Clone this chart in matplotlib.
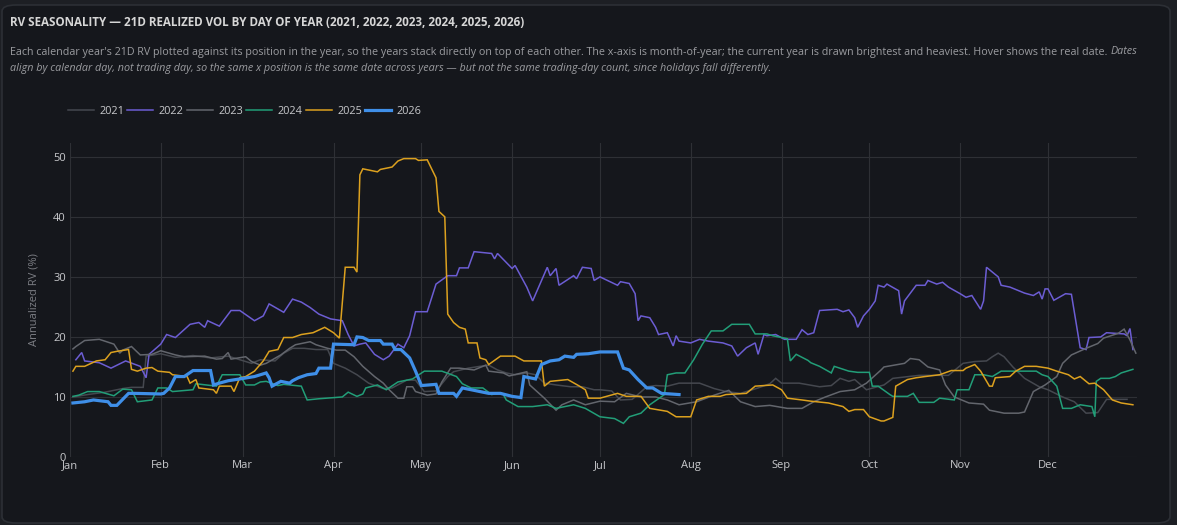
import matplotlib
matplotlib.use("Agg")
import matplotlib.pyplot as plt
from matplotlib.patches import FancyBboxPatch

plt.rcParams['font.family'] = ['Open Sans', 'DejaVu Sans']

# ---- data (day of year, 21D realized vol %) ----
years = ['2021', '2022', '2023', '2024', '2025', '2026']
colors = ['#45484f', '#6c5dd3', '#63666d', '#229e78', '#dca11f', '#3f8fe8']

days_2021 = [1, 6, 12, 18, 21, 25, 26, 31, 36, 42, 48, 54, 58, 62, 65, 70, 73, 76, 80, 84,
             88, 90, 94, 98, 102, 107, 110, 115, 118, 121, 125, 129, 131, 136, 140, 143, 146, 149, 152, 156,
             159, 162, 166, 171, 175, 179, 181, 185, 188, 192, 197, 200, 204, 208, 215, 220, 224, 229, 235, 239,
             241, 243, 249, 256, 260, 263, 266, 268, 272, 278, 281, 290, 300, 305, 309, 313, 315, 317, 319, 322,
             326, 331, 334, 339, 343, 347, 351, 354, 361]
rv_2021 = [10.0, 10.4, 10.8, 11.4, 11.6, 11.6, 16.8, 17.2, 16.6, 16.9, 16.5, 16.8, 16.2, 15.6, 16.2, 16.0, 17.3, 18.1, 18.1, 17.9,
           17.9, 15.6, 14.8, 13.7, 12.3, 11.4, 11.5, 12.8, 12.8, 10.9, 11.0, 13.4, 14.2, 14.8, 15.1, 15.3, 14.5, 14.0, 13.7, 14.0,
           13.7, 12.3, 12.0, 11.7, 11.7, 11.2, 11.2, 11.0, 9.5, 9.6, 11.7, 11.9, 11.8, 12.3, 12.3, 11.4, 10.9, 10.6, 11.5, 12.2,
           13.1, 12.3, 12.3, 11.7, 11.9, 13.1, 12.6, 12.9, 11.2, 12.0, 13.1, 13.6, 13.6, 15.6, 15.9, 16.0, 16.7, 17.3, 16.7, 15.0,
           13.1, 11.7, 11.2, 10.0, 9.2, 7.3, 7.4, 9.6, 9.6]

days_2022 = [2, 4, 5, 10, 14, 19, 24, 26, 27, 31, 33, 36, 41, 44, 46, 47, 51, 55, 58, 63,
             66, 68, 73, 76, 79, 82, 85, 89, 93, 95, 97, 99, 101, 104, 107, 109, 112, 114, 116, 118,
             122, 125, 129, 132, 133, 136, 138, 144, 145, 146, 151, 152, 156, 158, 163, 164, 166, 167, 172, 173,
             175, 178, 179, 181, 187, 188, 191, 193, 194, 195, 198, 200, 201, 204, 206, 207, 208, 212, 215, 218,
             223, 226, 228, 231, 234, 235, 237, 238, 241, 244, 248, 250, 252, 254, 256, 262, 264, 266, 268, 269,
             271, 273, 275, 276, 278, 279, 283, 284, 285, 289, 292, 293, 296, 298, 300, 304, 306, 308, 311, 312,
             313, 317, 318, 321, 326, 329, 331, 332, 333, 334, 336, 340, 342, 345, 347, 348, 352, 354, 360, 361,
             362, 363]
rv_2022 = [16.2, 17.4, 16.0, 15.7, 14.8, 16.0, 15.1, 13.2, 17.1, 18.8, 20.4, 19.9, 22.1, 22.4, 21.6, 22.7, 21.8, 24.4, 24.4, 22.7,
           23.5, 25.5, 24.1, 26.3, 25.8, 24.9, 23.8, 23.0, 22.7, 20.4, 18.5, 18.8, 19.0, 17.1, 16.2, 16.8, 18.8, 18.2, 20.2, 24.2,
           24.2, 28.8, 30.2, 30.2, 31.5, 31.5, 34.2, 33.9, 33.0, 33.9, 31.4, 31.9, 28.3, 26.0, 31.6, 30.2, 31.4, 28.6, 30.2, 29.7,
           31.6, 31.4, 29.4, 30.0, 28.6, 29.2, 28.9, 27.2, 22.7, 23.5, 23.2, 21.6, 20.4, 20.7, 18.5, 20.2, 19.3, 19.0, 19.6, 19.3,
           19.0, 18.5, 16.8, 18.2, 19.0, 17.1, 20.4, 20.2, 20.4, 19.6, 19.6, 21.2, 20.4, 20.7, 24.4, 24.6, 24.2, 24.5, 23.2, 21.6,
           23.5, 24.6, 26.0, 28.6, 28.3, 28.8, 27.7, 23.8, 26.0, 28.6, 28.6, 29.4, 28.8, 29.1, 28.3, 27.2, 26.6, 26.9, 24.6, 26.0,
           31.6, 30.0, 28.6, 28.3, 27.3, 26.9, 27.5, 26.3, 28.0, 28.0, 26.1, 27.2, 27.1, 18.2, 17.9, 19.9, 20.0, 20.7, 20.5, 20.2,
           21.4, 17.9]

days_2023 = [1, 2, 5, 10, 15, 17, 18, 21, 24, 28, 31, 36, 39, 46, 50, 52, 54, 55, 60, 62,
             65, 67, 72, 75, 77, 82, 84, 88, 91, 94, 97, 100, 104, 107, 109, 112, 114, 115, 117, 118,
             122, 125, 127, 130, 133, 138, 142, 143, 148, 150, 156, 157, 162, 166, 168, 172, 176, 181, 186, 190,
             195, 200, 204, 208, 214, 220, 225, 229, 234, 239, 245, 250, 254, 258, 263, 268, 272, 277, 278, 285,
             287, 290, 293, 297, 299, 302, 307, 312, 314, 319, 324, 326, 329, 333, 337, 339, 342, 347, 351, 353,
             358, 360, 362, 364]
rv_2023 = [18.0, 18.4, 19.4, 19.6, 18.8, 17.3, 17.8, 18.4, 17.0, 17.1, 17.7, 17.0, 16.7, 16.8, 16.3, 16.4, 17.4, 16.3, 16.7, 15.9,
           15.3, 15.6, 17.0, 18.1, 18.7, 19.2, 18.7, 18.1, 17.8, 17.8, 16.7, 15.1, 13.4, 12.3, 11.2, 9.8, 9.8, 11.7, 11.7, 10.9,
           10.3, 10.5, 12.5, 14.8, 14.8, 14.5, 15.3, 14.3, 14.0, 13.5, 14.2, 12.0, 9.8, 7.8, 8.7, 9.5, 8.7, 9.3, 9.2, 10.6,
           10.0, 10.0, 9.5, 8.7, 9.2, 10.3, 11.1, 9.2, 8.4, 8.6, 8.1, 8.1, 9.2, 10.0, 10.9, 11.2, 12.3, 14.5, 15.0, 15.6,
           16.4, 16.2, 15.0, 14.5, 12.0, 10.0, 9.0, 8.8, 7.8, 7.3, 7.3, 7.5, 10.9, 12.0, 13.4, 15.6, 17.0, 18.1, 18.9, 19.8,
           20.6, 21.3, 19.5, 17.3]

days_2024 = [1, 3, 6, 10, 15, 18, 21, 23, 28, 30, 33, 35, 42, 43, 50, 52, 58, 60, 63, 65,
             67, 71, 73, 79, 81, 85, 93, 95, 98, 100, 101, 105, 108, 112, 117, 121, 127, 132, 134, 137,
             141, 144, 147, 148, 149, 153, 158, 163, 166, 172, 176, 181, 186, 189, 191, 195, 198, 203, 204, 207,
             210, 213, 216, 219, 223, 226, 232, 234, 238, 240, 245, 246, 248, 252, 253, 256, 260, 261, 266, 269,
             273, 274, 276, 280, 281, 286, 288, 290, 295, 297, 302, 303, 307, 309, 312, 315, 318, 330, 332, 334,
             337, 339, 342, 345, 349, 350, 350.5, 352, 355, 357, 359, 363]
rv_2024 = [10.1, 10.3, 10.9, 10.9, 10.2, 11.3, 11.2, 9.2, 9.5, 11.5, 11.5, 10.9, 11.2, 12.2, 11.8, 13.7, 13.7, 12.0, 12.0, 12.5,
           12.6, 11.9, 12.1, 11.8, 9.5, 9.7, 10.0, 10.8, 10.1, 10.5, 11.5, 12.0, 11.2, 12.5, 13.0, 14.3, 14.3, 13.4, 12.2, 11.5,
           11.5, 10.4, 10.7, 10.4, 9.5, 8.4, 8.4, 8.7, 8.1, 8.7, 8.1, 6.7, 6.4, 5.6, 6.7, 7.3, 8.7, 10.4, 13.7, 14.0,
           14.0, 16.2, 18.8, 21.0, 21.0, 22.1, 22.1, 20.5, 20.5, 20.2, 19.7, 16.0, 17.1, 16.1, 15.7, 15.1, 14.0, 15.1, 14.3, 14.1,
           14.1, 11.8, 11.8, 10.4, 10.1, 10.1, 10.6, 9.1, 9.1, 9.8, 9.5, 11.2, 11.2, 13.7, 13.7, 13.4, 14.3, 14.3, 13.7, 13.4,
           11.8, 8.1, 8.1, 8.7, 8.4, 6.7, 12.6, 13.1, 13.1, 13.4, 14.0, 14.6]

days_2025 = [1, 2, 5, 9, 12, 14, 16, 20, 21, 23, 26, 28, 30, 34, 35, 40, 41, 43, 44, 49,
             50, 51, 55, 56, 58, 60, 63, 66, 68, 71, 73, 76, 79, 83, 87, 90, 92, 94, 97, 98,
             99, 100, 105, 106, 110, 112, 114, 118, 119, 122, 125, 126, 128, 129, 131, 133, 135, 136, 139, 140,
             142, 143, 147, 152, 155, 161, 162, 164, 170, 174, 176, 177, 181, 187, 190, 195, 198, 204, 207, 212,
             214, 218, 222, 224, 231, 234, 240, 243, 245, 250, 253, 259, 264, 266, 268, 271, 273, 277, 278, 281,
             282, 286, 289, 292, 297, 301, 305, 306, 309, 311, 314, 315, 316, 321, 323, 326, 330, 334, 337, 341,
             343, 345, 348, 350, 353, 356, 359, 363]
rv_2025 = [14.3, 15.1, 15.1, 16.0, 16.2, 17.4, 17.6, 17.9, 14.6, 14.3, 14.8, 14.9, 14.3, 14.1, 13.7, 13.4, 12.3, 12.9, 11.5, 11.2,
           10.6, 11.8, 11.8, 10.9, 13.2, 13.4, 14.3, 16.0, 17.6, 17.9, 19.9, 19.9, 20.4, 20.7, 21.6, 20.7, 19.8, 31.6, 31.6, 30.8,
           47.0, 48.0, 47.5, 47.9, 48.3, 49.3, 49.7, 49.7, 49.4, 49.5, 46.5, 40.9, 40.0, 23.8, 22.4, 21.6, 21.3, 19.0, 19.0, 16.5,
           16.2, 15.4, 16.8, 16.8, 16.0, 16.0, 11.8, 12.6, 12.9, 11.8, 11.2, 9.8, 9.8, 10.6, 10.1, 10.1, 8.1, 7.6, 6.7, 6.7,
           9.5, 10.1, 10.1, 10.4, 10.6, 11.8, 12.0, 11.2, 9.8, 9.5, 9.3, 9.0, 8.4, 7.6, 7.9, 7.9, 6.7, 6.0, 6.0, 6.6,
           11.8, 12.9, 13.2, 13.4, 13.7, 14.4, 14.4, 14.8, 15.4, 14.3, 11.8, 11.8, 13.2, 13.4, 14.3, 15.1, 15.1, 14.8, 14.3, 13.7,
           13.0, 13.4, 12.2, 12.3, 11.2, 9.5, 9.0, 8.7]

days_2026 = [1, 5, 8, 13, 14, 16, 20, 22, 31, 32, 34, 36, 39, 42, 48, 49, 51, 54, 58, 63,
             65, 67, 68, 69, 72, 75, 76, 78, 81, 84, 85, 89, 90, 97, 98, 100, 102, 106, 107, 110,
             111, 113, 116, 118, 120, 125, 126, 131, 132, 134, 137, 143, 147, 151, 154, 155, 159, 161, 164, 167,
             169, 172, 173, 177, 181, 187, 189, 191, 194, 197, 199, 202, 208]
rv_2026 = [9.0, 9.2, 9.5, 9.2, 8.6, 8.6, 10.6, 10.6, 10.5, 10.6, 11.5, 13.4, 13.4, 14.4, 14.4, 12.0, 12.3, 12.7, 13.0, 13.4,
           13.7, 14.0, 13.2, 11.8, 12.6, 12.3, 12.7, 13.2, 13.7, 13.9, 14.8, 14.8, 18.8, 18.7, 20.0, 19.9, 19.4, 19.4, 18.8, 18.8,
           17.9, 17.9, 16.5, 14.3, 11.9, 12.1, 10.6, 10.6, 10.1, 11.5, 11.2, 10.6, 10.6, 10.1, 9.9, 13.4, 13.0, 15.4, 16.0, 16.2,
           16.8, 16.6, 17.1, 17.2, 17.5, 17.5, 14.8, 14.5, 12.9, 11.5, 11.5, 10.6, 10.4]

month_days = [0, 31, 59, 90, 120, 151, 181, 212, 243, 273, 304, 334]
month_labels = ['Jan', 'Feb', 'Mar', 'Apr', 'May', 'Jun', 'Jul', 'Aug', 'Sep', 'Oct', 'Nov', 'Dec']
y_ticks = [0, 10, 20, 30, 40, 50]

series = [(days_2021, rv_2021), (days_2022, rv_2022), (days_2023, rv_2023),
          (days_2024, rv_2024), (days_2025, rv_2025), (days_2026, rv_2026)]

W, H = 1177, 525
BG = '#15171c'

fig = plt.figure(figsize=(W / 100, H / 100), dpi=100)
fig.patch.set_facecolor('#1d1f24')
card = FancyBboxPatch((2 / W, 2 / H), 1168 / W, 518 / H,
                      boxstyle='round,pad=0,rounding_size=0.012',
                      transform=fig.transFigure, facecolor=BG,
                      edgecolor='#2c2f35', linewidth=1.2, zorder=-5)
fig.patches.append(card)

ax = fig.add_axes([70 / W, 1 - 457 / H, (1137 - 70) / W, (457 - 143) / H], zorder=2)
ax.set_facecolor('none')
for sp in ax.spines.values():
    sp.set_visible(False)

for (d, v), yr, c in zip(series, years, colors):
    lw = 2.3 if yr == '2026' else 1.1
    ax.plot(d, v, color=c, lw=lw, label=yr, solid_joinstyle='miter',
            zorder=3 if yr == '2026' else 2)

ax.set_xlim(0, 364.4)
ax.set_ylim(0, 52.3)
ax.set_xticks(month_days)
ax.set_xticklabels(month_labels)
ax.set_yticks(y_ticks)
ax.grid(True, color='#2e3035', lw=0.8)
ax.set_axisbelow(True)
ax.tick_params(axis='x', length=0, colors='#c8c9cc', labelsize=8, pad=2)
ax.tick_params(axis='y', length=0, colors='#c8c9cc', labelsize=8, pad=3)
ax.set_ylabel('Annualized RV (%)', color='#7c7e84', fontsize=8, labelpad=10)

# title + subtitle
fig.text(10 / W, 1 - 22 / H, 'RV SEASONALITY \u2014 21D REALIZED VOL BY DAY OF YEAR (2021, 2022, 2023, 2024, 2025, 2026)',
         color='#d6d6d6', fontsize=8.4, fontweight='bold', va='center')
sub1 = ("Each calendar year's 21D RV plotted against its position in the year, so the years stack directly on top of "
        "each other. The x-axis is month-of-year; the current year is drawn brightest and heaviest. "
        "Hover shows the real date.")
sub2 = ("align by calendar day, not trading day, so the same x position is the same date across years \u2014 "
        "but not the same trading-day count, since holidays fall differently.")
t1 = fig.text(10 / W, 1 - 52 / H, sub1, color='#9b9ca0', fontsize=7.75, va='center')
fig.canvas.draw()
x_end = t1.get_window_extent().x1 / fig.bbox.width
fig.text(x_end + 3 / W, 1 - 52 / H, 'Dates', color='#9b9ca0', fontsize=7.75, style='italic', va='center')
fig.text(10 / W, 1 - 68 / H, sub2, color='#9b9ca0', fontsize=7.75, style='italic', va='center')

leg = fig.legend(loc='center left', bbox_to_anchor=(58 / W, 1 - 111 / H), ncol=6, frameon=False,
                 fontsize=7.8, handlelength=2.4, handletextpad=0.5, columnspacing=0.3,
                 labelcolor='#c8c9cc')

fig.savefig('out.png', dpi=100, facecolor=fig.get_facecolor())
